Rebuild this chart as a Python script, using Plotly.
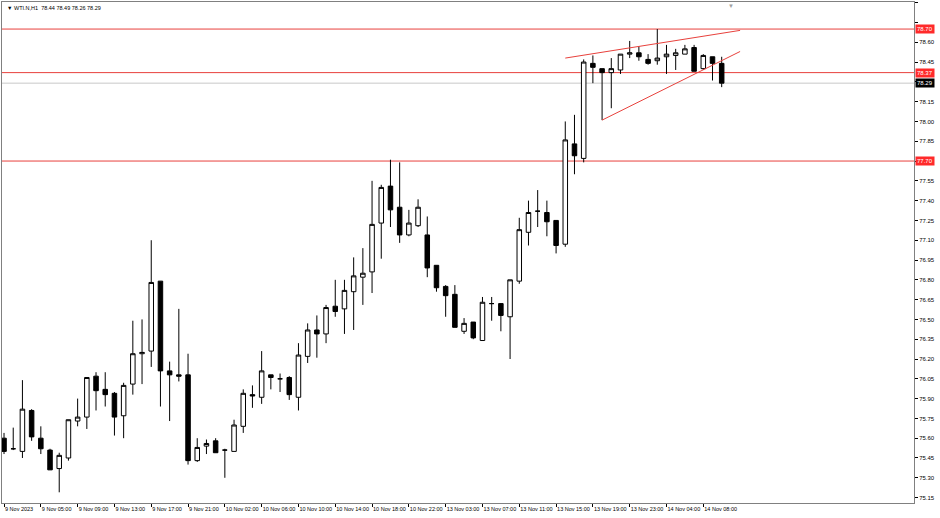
import plotly.graph_objects as go

# ---- data (hourly WTI candles) ----
bar_index = list(range(79))
open_ = [75.60, 75.52, 75.50, 75.81, 75.60, 75.51, 75.37, 75.45, 75.73, 75.76,
         76.07, 75.97, 75.94, 75.77, 76.01, 76.24, 76.26, 76.79, 76.11, 76.08,
         76.08, 75.43, 75.54, 75.58, 75.51, 75.50, 75.69, 75.93, 75.91, 76.08,
         76.05, 76.06, 75.91, 76.22, 76.42, 76.39, 76.60, 76.58, 76.71, 76.82,
         76.86, 77.23, 77.51, 77.35, 77.14, 77.21, 77.14, 76.91, 76.75, 76.69,
         76.41, 76.48, 76.34, 76.62, 76.62, 76.52, 76.79, 77.16, 77.32, 77.31,
         77.25, 77.07, 77.83, 77.72, 78.44, 78.40, 78.37, 78.39, 78.51, 78.52,
         78.47, 78.46, 78.49, 78.50, 78.51, 78.56, 78.40, 78.49, 78.44]
high = [75.64, 75.68, 76.04, 75.82, 75.69, 75.52, 75.49, 75.74, 75.90, 76.06,
        76.10, 76.10, 75.95, 76.02, 76.49, 76.50, 77.10, 76.79, 76.18, 76.58,
        76.24, 75.60, 75.59, 75.60, 75.52, 75.74, 75.97, 76.00, 76.26, 76.08,
        76.09, 76.07, 76.32, 76.47, 76.53, 76.61, 76.80, 76.80, 76.97, 77.04,
        77.55, 77.52, 77.71, 77.69, 77.33, 77.41, 77.28, 76.91, 76.76, 76.76,
        76.51, 76.48, 76.67, 76.67, 76.62, 76.80, 77.27, 77.40, 77.48, 77.40,
        77.25, 78.00, 78.05, 78.47, 78.50, 78.40, 78.48, 78.51, 78.61, 78.57,
        78.51, 78.70, 78.58, 78.55, 78.58, 78.58, 78.51, 78.49, 78.49]
low = [75.48, 75.51, 75.45, 75.58, 75.48, 75.36, 75.19, 75.43, 75.69, 75.67,
       75.81, 75.84, 75.62, 75.60, 75.93, 76.01, 76.14, 75.84, 75.73, 76.03,
       75.40, 75.42, 75.48, 75.49, 75.30, 75.50, 75.64, 75.83, 75.86, 75.97,
       75.95, 75.89, 75.81, 76.17, 76.21, 76.32, 76.52, 76.39, 76.42, 76.61,
       76.70, 76.96, 77.20, 77.08, 77.13, 77.20, 76.82, 76.71, 76.52, 76.44,
       76.39, 76.35, 76.34, 76.49, 76.41, 76.20, 76.77, 77.06, 77.20, 77.13,
       77.00, 77.05, 77.60, 77.69, 78.29, 78.01, 78.10, 78.36, 78.48, 78.46,
       78.43, 78.43, 78.36, 78.39, 78.51, 78.38, 78.39, 78.31, 78.26]
close = [75.50, 75.52, 75.82, 75.61, 75.52, 75.36, 75.47, 75.74, 75.76, 76.06,
         75.96, 75.93, 75.76, 76.00, 76.24, 76.25, 76.78, 76.11, 76.08, 76.07,
         75.43, 75.53, 75.56, 75.49, 75.51, 75.70, 75.94, 75.92, 76.11, 76.06,
         76.05, 75.93, 76.23, 76.42, 76.39, 76.59, 76.56, 76.72, 76.83, 76.85,
         77.22, 77.50, 77.33, 77.14, 77.23, 77.35, 76.89, 76.74, 76.68, 76.44,
         76.47, 76.36, 76.63, 76.62, 76.53, 76.80, 77.18, 77.31, 77.32, 77.24,
         77.06, 77.86, 77.74, 78.45, 78.41, 78.37, 78.40, 78.51, 78.52, 78.49,
         78.44, 78.48, 78.51, 78.52, 78.55, 78.38, 78.50, 78.44, 78.29]

time_tick_bars = [0, 4, 8, 12, 16, 20, 24, 28, 32, 36, 40, 44, 48, 52, 56, 60, 64, 68, 72, 76]
time_tick_labels = ["9 Nov 2023", "9 Nov 05:00", "9 Nov 09:00", "9 Nov 13:00", "9 Nov 17:00",
                    "9 Nov 21:00", "10 Nov 02:00", "10 Nov 06:00", "10 Nov 10:00", "10 Nov 14:00",
                    "10 Nov 18:00", "10 Nov 22:00", "13 Nov 03:00", "13 Nov 07:00", "13 Nov 11:00",
                    "13 Nov 15:00", "13 Nov 19:00", "13 Nov 23:00", "14 Nov 04:00", "14 Nov 08:00"]
price_ticks = [75.15, 75.30, 75.45, 75.60, 75.75, 75.90, 76.05, 76.20, 76.35, 76.50,
               76.65, 76.80, 76.95, 77.10, 77.25, 77.40, 77.55, 77.70, 77.85, 78.00,
               78.15, 78.30, 78.45, 78.60, 78.75, 78.90]

level_lines = [78.70, 78.37, 77.70]       # red horizontal levels
bid_price = 78.29                          # current price line
trend_upper = [(61, 78.48), (80, 78.69)]   # wedge upper trend line (bar, price)
trend_lower = [(65, 78.01), (80, 78.53)]   # wedge lower trend line (bar, price)
title_text = "WTI.N,H1  78.44 78.49 78.26 78.29"

FONT = "Liberation Sans"
RED = "#e8413c"

# labels hidden behind the level / price boxes on the price scale
covered = set(round(v, 2) for v in level_lines + [bid_price])
price_tick_text = []
for v in price_ticks:
    hide = any(abs(v - c) < 0.05 for c in covered)
    price_tick_text.append("" if hide else f"{v:.2f}")

fig = go.Figure()
fig.add_trace(go.Candlestick(
    x=bar_index, open=open_, high=high, low=low, close=close,
    increasing=dict(line=dict(color="black", width=1), fillcolor="white"),
    decreasing=dict(line=dict(color="black", width=1), fillcolor="black"),
    whiskerwidth=0, showlegend=False, hoverinfo="skip"))

shapes = []
for lv in level_lines:
    shapes.append(dict(type="line", xref="paper", x0=0, x1=1, yref="y", y0=lv, y1=lv,
                       line=dict(color=RED, width=1), layer="below"))
shapes.append(dict(type="line", xref="paper", x0=0, x1=1, yref="y", y0=bid_price, y1=bid_price,
                   line=dict(color="#c8c8c8", width=1), layer="below"))
for seg in (trend_upper, trend_lower):
    shapes.append(dict(type="line", xref="x", yref="y", x0=seg[0][0], y0=seg[0][1],
                       x1=seg[1][0], y1=seg[1][1], line=dict(color=RED, width=1)))

annotations = []
for lv in level_lines:
    annotations.append(dict(xref="paper", x=1, xanchor="left", xshift=1, yref="y", y=lv,
                            text=f"{lv:.2f}", showarrow=False, bgcolor="#ff2a2a",
                            font=dict(family=FONT, size=6, color="white"), borderpad=1))
annotations.append(dict(xref="paper", x=1, xanchor="left", xshift=1, yref="y", y=bid_price,
                        text=f"{bid_price:.2f}", showarrow=False, bgcolor="black",
                        font=dict(family=FONT, size=6, color="white"), borderpad=1))
annotations.append(dict(xref="paper", x=0, xanchor="left", xshift=3, yref="paper", y=1,
                        yanchor="top", yshift=-1, text="▼ " + title_text, showarrow=False,
                        font=dict(family=FONT, size=5.5, color="black")))
annotations.append(dict(xref="x", x=79, yref="paper", y=1, yanchor="top", yshift=1,
                        text="▼", showarrow=False, font=dict(family=FONT, size=6, color="#a0a0a0")))

fig.update_layout(
    width=940, height=518,
    margin=dict(l=2, r=26, t=2, b=15, autoexpand=False),
    paper_bgcolor="white", plot_bgcolor="white",
    shapes=shapes, annotations=annotations,
    xaxis=dict(range=[-0.22, 98.9], tickvals=time_tick_bars, ticktext=time_tick_labels,
               ticks="outside", ticklen=3, tickcolor="black", ticklabelposition="outside right",
               tickangle=0, automargin=False,
               tickfont=dict(family=FONT, size=5.5, color="black"), showgrid=False,
               zeroline=False, showline=True, linecolor="#808080", mirror=True,
               rangeslider=dict(visible=False), fixedrange=True),
    yaxis=dict(range=[75.109, 78.905], side="right", tickvals=price_ticks,
               ticktext=price_tick_text, automargin=False,
               ticks="outside", ticklen=3, tickcolor="black",
               tickfont=dict(family=FONT, size=6, color="black"), showgrid=False,
               zeroline=False, showline=True, linecolor="#808080", mirror=True,
               fixedrange=True),
)

fig.write_html("out.html", config={"displayModeBar": False},
               post_script="document.body.style.margin='0';document.body.style.padding='0';"
                           "document.body.style.overflow='hidden';")
